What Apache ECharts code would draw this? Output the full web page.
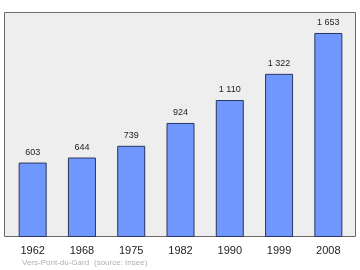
<!DOCTYPE html>
<html><head><meta charset="utf-8">
<script src="https://cdn.jsdelivr.net/npm/echarts@6/dist/echarts.min.js"></script>
<style>html,body{margin:0;padding:0;background:#fff}#c{width:360px;height:270px}</style>
</head><body><div id="c"></div>
<script>
var categories = ['1962','1968','1975','1982','1990','1999','2008'];
var population = [603, 644, 739, 924, 1110, 1322, 1653];
var footerPlace = 'Vers-Pont-du-Gard';
var footerSource = '(source: Insee)';

function fmt(v){ return String(v).replace(/\B(?=(\d{3})+(?!\d))/g, ' '); }

var chart = echarts.init(document.getElementById('c'), null, {renderer:'canvas'});
chart.setOption({
  animation: false,
  backgroundColor: '#ffffff',
  graphic: [
    {type:'rect', shape:{x:4.5, y:12.5, width:351, height:224}, style:{fill:'#eeeeee', stroke:'#6a6a6a', lineWidth:1}, z:-10},
    {type:'text', left:22, top:259, style:{text: footerPlace, fill:'#b0b0b0', font:'8px "Liberation Sans", Arial, sans-serif'}},
    {type:'text', left:94, top:259, style:{text: footerSource, fill:'#b0b0b0', font:'8px "Liberation Sans", Arial, sans-serif'}}
  ],
  grid: {left:8, right:7, top:12, bottom:33},
  xAxis: {
    type:'category', data: categories,
    axisLine:{show:false}, axisTick:{show:false},
    axisLabel:{color:'#222', fontSize:11, margin:8, fontFamily:'Liberation Sans'}
  },
  yAxis: {type:'value', min:0, max:1823, show:false, splitLine:{show:false}},
  series: [{
    type:'bar', data: population, barWidth:28,
    itemStyle:{color:'#6f97fd', borderColor:'#2a3560', borderWidth:1},
    label:{show:true, position:'top', distance:6, color:'#222', fontSize:9, fontFamily:'Liberation Sans', formatter:function(p){return fmt(p.value);}}
  }]
});
</script></body></html>
